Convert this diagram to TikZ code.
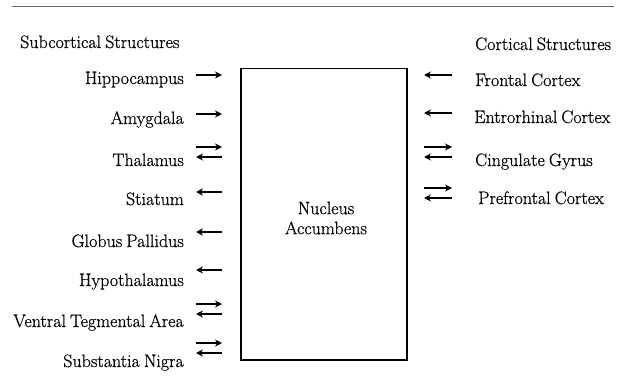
\documentclass[tikz,border=0pt]{standalone}
\usepackage{fontspec}
\setmainfont{Latin Modern Roman}[FakeBold=0.6,WordSpace=0.75]
\usetikzlibrary{arrows.meta}
\begin{document}
\begin{tikzpicture}[x=1pt,y=-1pt,
  lbl/.style={inner sep=0pt,font=\fontsize{18}{21}\selectfont},
  lft/.style={lbl,anchor=base east},
  rgt/.style={lbl,anchor=base west},
  conn/.style={line width=1.6pt,-{Stealth[length=7pt,width=7pt]}},
  boxst/.style={draw,line width=1.5pt,inner sep=0pt}]
\useasboundingbox (0,0) rectangle (617,390);
\draw[line width=1.5pt,gray!80!black] (12,6.5) -- (614,6.5);
% box
\node[boxst,minimum width=166pt,minimum height=291pt,anchor=north west] (nac) at (240,68) {};
\node[lbl,align=center] (nactext) at (326,218) {Nucleus\\[-1pt]Accumbens};
% headers
\node[lbl,anchor=base west] (sub) at (20,48) {Subcortical Structures};
\node[lbl,anchor=base west] (cor) at (475,50) {Cortical Structures};
% left labels
\node[lft] (hip) at (184,84) {Hippocampus};
\node[lft] (amy) at (184,124) {Amygdala};
\node[lft] (tha) at (184,166) {Thalamus};
\node[lft] (sti) at (184,205) {Stiatum};
\node[lft] (glo) at (184,247) {Globus Pallidus};
\node[lft] (hyp) at (184,286) {Hypothalamus};
\node[lft] (vta) at (184,327) {Ventral Tegmental Area};
\node[lft] (sni) at (184,367) {Substantia Nigra};
% right labels
\node[rgt] (fro) at (475,86) {Frontal Cortex};
\node[rgt] (ent) at (474,123) {Entrorhinal Cortex};
\node[rgt] (cin) at (475,166) {Cingulate Gyrus};
\node[rgt] (pre) at (478,204) {Prefrontal Cortex};
% left arrow coordinates
\foreach \n/\y in {hipA/75,amyA/114,thaA/147,thaB/157,stiB/192,gloB/232,hypB/270,vtaA/304,vtaB/314,sniA/343,sniB/353}{
  \coordinate (\n L) at (196,\y);
  \coordinate (\n R) at (222,\y);
}
\foreach \n in {hipA,amyA,thaA,vtaA,sniA}{\draw[conn] (\n L) -- (\n R);}
\foreach \n in {thaB,stiB,gloB,hypB,vtaB,sniB}{\draw[conn] (\n R) -- (\n L);}
% right arrow coordinates
\foreach \n/\y in {froB/75,entB/113,cinA/147,cinB/157,preA/188,preB/198}{
  \coordinate (\n L) at (424,\y);
  \coordinate (\n R) at (452,\y);
}
\foreach \n in {cinA,preA}{\draw[conn] (\n L) -- (\n R);}
\foreach \n in {froB,entB,cinB,preB}{\draw[conn] (\n R) -- (\n L);}
\end{tikzpicture}
\end{document}
